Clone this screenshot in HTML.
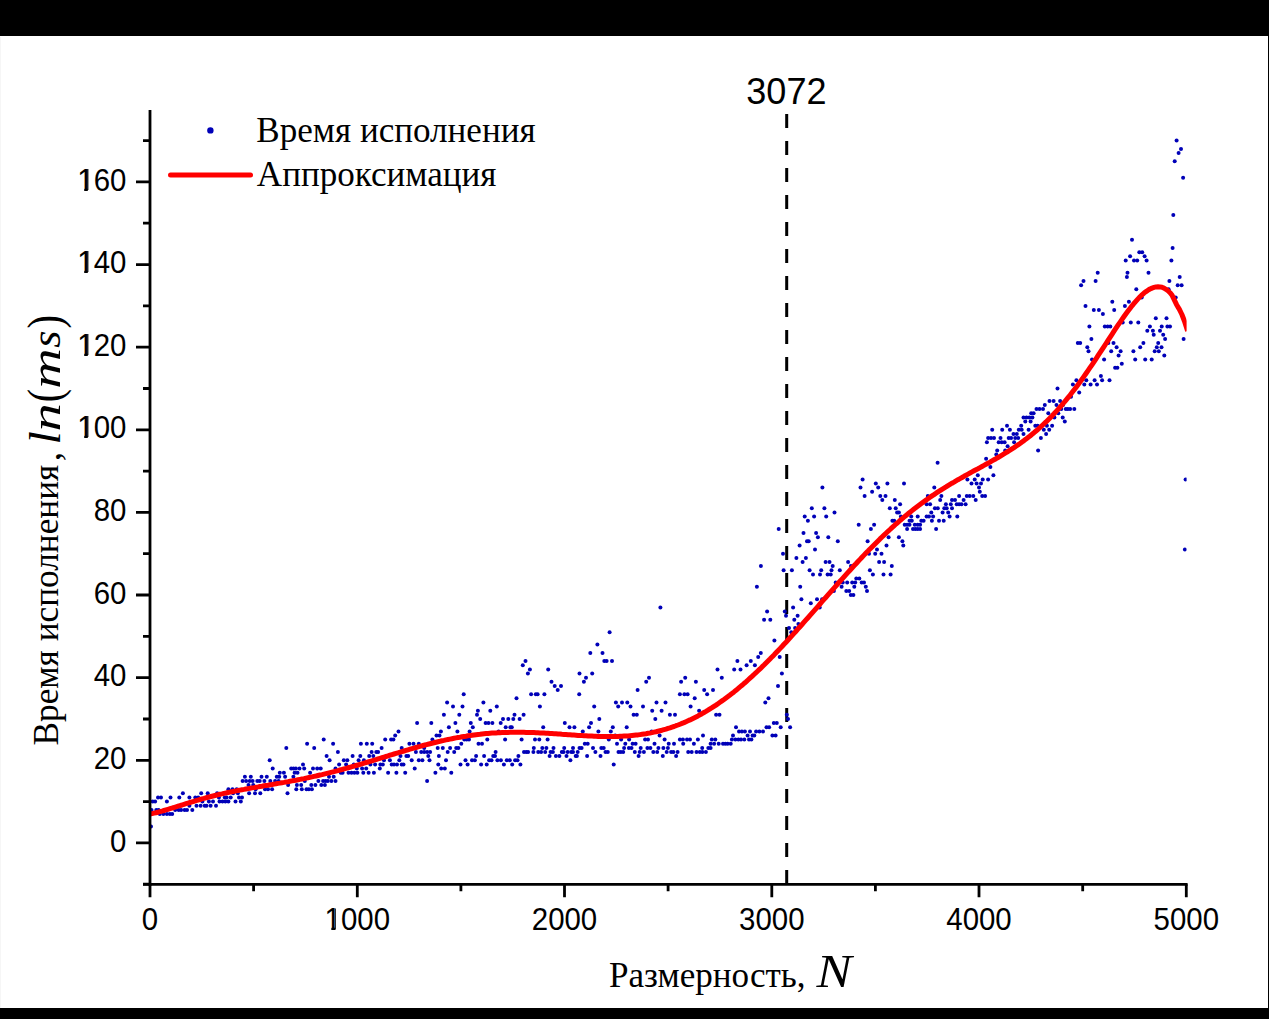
<!DOCTYPE html>
<html><head><meta charset="utf-8">
<style>
html,body{margin:0;padding:0;background:#fff;}
body{width:1269px;height:1019px;overflow:hidden;position:relative;}
svg{position:absolute;left:0;top:0;}
.sans{font-family:"Liberation Sans",sans-serif;}
.serif{font-family:"Liberation Serif",serif;}
</style></head><body>
<svg width="1269" height="1019" viewBox="0 0 1269 1019">
<rect x="0" y="0" width="1269" height="1019" fill="#fff"/>
<path d="M786.7,114V884" stroke="#000" stroke-width="3" stroke-dasharray="14 13" fill="none"/>
<g fill="#0000b8" clip-path="url(#pc)"><circle cx="151.0" cy="826.4" r="2.0"/><circle cx="151.5" cy="809.9" r="2.0"/><circle cx="152.7" cy="801.6" r="2.0"/><circle cx="155.1" cy="801.6" r="2.0"/><circle cx="156.3" cy="809.9" r="2.0"/><circle cx="158.0" cy="797.5" r="2.0"/><circle cx="158.6" cy="809.9" r="2.0"/><circle cx="159.8" cy="814.0" r="2.0"/><circle cx="161.0" cy="797.5" r="2.0"/><circle cx="163.4" cy="814.0" r="2.0"/><circle cx="166.9" cy="801.6" r="2.0"/><circle cx="166.9" cy="814.0" r="2.0"/><circle cx="169.9" cy="814.0" r="2.0"/><circle cx="170.5" cy="797.5" r="2.0"/><circle cx="172.2" cy="814.0" r="2.0"/><circle cx="175.2" cy="809.9" r="2.0"/><circle cx="178.7" cy="809.9" r="2.0"/><circle cx="179.3" cy="797.5" r="2.0"/><circle cx="181.1" cy="809.9" r="2.0"/><circle cx="182.9" cy="793.3" r="2.0"/><circle cx="184.6" cy="809.9" r="2.0"/><circle cx="187.0" cy="809.9" r="2.0"/><circle cx="189.4" cy="797.5" r="2.0"/><circle cx="189.4" cy="805.7" r="2.0"/><circle cx="192.3" cy="809.9" r="2.0"/><circle cx="195.3" cy="797.5" r="2.0"/><circle cx="196.5" cy="805.7" r="2.0"/><circle cx="198.2" cy="797.5" r="2.0"/><circle cx="200.6" cy="805.7" r="2.0"/><circle cx="201.2" cy="793.3" r="2.0"/><circle cx="202.4" cy="801.6" r="2.0"/><circle cx="204.7" cy="805.7" r="2.0"/><circle cx="206.5" cy="805.7" r="2.0"/><circle cx="207.7" cy="793.3" r="2.0"/><circle cx="208.9" cy="801.6" r="2.0"/><circle cx="210.6" cy="805.7" r="2.0"/><circle cx="213.0" cy="801.6" r="2.0"/><circle cx="216.0" cy="805.7" r="2.0"/><circle cx="217.1" cy="793.3" r="2.0"/><circle cx="218.9" cy="797.5" r="2.0"/><circle cx="219.5" cy="801.6" r="2.0"/><circle cx="222.5" cy="801.6" r="2.0"/><circle cx="224.8" cy="797.5" r="2.0"/><circle cx="225.4" cy="801.6" r="2.0"/><circle cx="226.6" cy="797.5" r="2.0"/><circle cx="228.4" cy="789.2" r="2.0"/><circle cx="228.4" cy="801.6" r="2.0"/><circle cx="230.7" cy="797.5" r="2.0"/><circle cx="232.5" cy="789.2" r="2.0"/><circle cx="233.1" cy="793.3" r="2.0"/><circle cx="235.5" cy="801.6" r="2.0"/><circle cx="236.7" cy="789.2" r="2.0"/><circle cx="237.8" cy="793.3" r="2.0"/><circle cx="239.0" cy="797.5" r="2.0"/><circle cx="240.8" cy="801.6" r="2.0"/><circle cx="242.0" cy="797.5" r="2.0"/><circle cx="242.6" cy="780.9" r="2.0"/><circle cx="244.9" cy="776.8" r="2.0"/><circle cx="246.1" cy="780.9" r="2.0"/><circle cx="248.5" cy="785.1" r="2.0"/><circle cx="249.1" cy="793.3" r="2.0"/><circle cx="249.7" cy="780.9" r="2.0"/><circle cx="250.8" cy="776.8" r="2.0"/><circle cx="252.6" cy="780.9" r="2.0"/><circle cx="253.2" cy="785.1" r="2.0"/><circle cx="255.0" cy="793.3" r="2.0"/><circle cx="255.6" cy="789.2" r="2.0"/><circle cx="257.3" cy="780.9" r="2.0"/><circle cx="259.7" cy="780.9" r="2.0"/><circle cx="260.3" cy="793.3" r="2.0"/><circle cx="261.5" cy="776.8" r="2.0"/><circle cx="264.4" cy="780.9" r="2.0"/><circle cx="265.0" cy="789.2" r="2.0"/><circle cx="266.8" cy="776.8" r="2.0"/><circle cx="268.0" cy="789.2" r="2.0"/><circle cx="269.7" cy="760.3" r="2.0"/><circle cx="270.3" cy="780.9" r="2.0"/><circle cx="272.1" cy="789.2" r="2.0"/><circle cx="272.7" cy="768.5" r="2.0"/><circle cx="275.1" cy="780.9" r="2.0"/><circle cx="276.8" cy="776.8" r="2.0"/><circle cx="278.6" cy="780.9" r="2.0"/><circle cx="279.2" cy="776.8" r="2.0"/><circle cx="279.8" cy="772.7" r="2.0"/><circle cx="283.9" cy="772.7" r="2.0"/><circle cx="285.1" cy="776.8" r="2.0"/><circle cx="286.3" cy="747.9" r="2.0"/><circle cx="287.5" cy="793.3" r="2.0"/><circle cx="288.1" cy="785.1" r="2.0"/><circle cx="291.2" cy="768.5" r="2.0"/><circle cx="293.4" cy="776.8" r="2.0"/><circle cx="293.5" cy="768.5" r="2.0"/><circle cx="294.6" cy="772.7" r="2.0"/><circle cx="295.9" cy="768.5" r="2.0"/><circle cx="296.3" cy="789.2" r="2.0"/><circle cx="296.9" cy="785.1" r="2.0"/><circle cx="297.5" cy="772.7" r="2.0"/><circle cx="299.5" cy="768.5" r="2.0"/><circle cx="301.2" cy="785.1" r="2.0"/><circle cx="301.8" cy="789.2" r="2.0"/><circle cx="303.0" cy="764.4" r="2.0"/><circle cx="304.2" cy="768.5" r="2.0"/><circle cx="304.8" cy="780.9" r="2.0"/><circle cx="306.5" cy="789.2" r="2.0"/><circle cx="307.1" cy="743.8" r="2.0"/><circle cx="308.9" cy="789.2" r="2.0"/><circle cx="310.1" cy="772.7" r="2.0"/><circle cx="311.3" cy="785.1" r="2.0"/><circle cx="311.9" cy="789.2" r="2.0"/><circle cx="313.0" cy="768.5" r="2.0"/><circle cx="314.2" cy="747.9" r="2.0"/><circle cx="315.4" cy="785.1" r="2.0"/><circle cx="317.2" cy="768.5" r="2.0"/><circle cx="318.4" cy="780.9" r="2.0"/><circle cx="320.7" cy="768.5" r="2.0"/><circle cx="321.3" cy="785.1" r="2.0"/><circle cx="323.1" cy="780.9" r="2.0"/><circle cx="323.7" cy="739.6" r="2.0"/><circle cx="324.9" cy="785.1" r="2.0"/><circle cx="325.5" cy="780.9" r="2.0"/><circle cx="326.6" cy="756.1" r="2.0"/><circle cx="327.8" cy="780.9" r="2.0"/><circle cx="329.0" cy="776.8" r="2.0"/><circle cx="329.6" cy="760.3" r="2.0"/><circle cx="331.4" cy="780.9" r="2.0"/><circle cx="333.1" cy="743.8" r="2.0"/><circle cx="333.7" cy="776.8" r="2.0"/><circle cx="335.5" cy="768.5" r="2.0"/><circle cx="335.5" cy="780.9" r="2.0"/><circle cx="337.9" cy="752.0" r="2.0"/><circle cx="339.1" cy="764.4" r="2.0"/><circle cx="340.8" cy="772.7" r="2.0"/><circle cx="342.6" cy="772.7" r="2.0"/><circle cx="343.8" cy="760.3" r="2.0"/><circle cx="346.1" cy="764.4" r="2.0"/><circle cx="347.3" cy="760.3" r="2.0"/><circle cx="348.5" cy="772.7" r="2.0"/><circle cx="351.5" cy="772.7" r="2.0"/><circle cx="352.6" cy="756.1" r="2.0"/><circle cx="353.8" cy="764.4" r="2.0"/><circle cx="354.4" cy="772.7" r="2.0"/><circle cx="356.8" cy="768.5" r="2.0"/><circle cx="357.4" cy="772.7" r="2.0"/><circle cx="358.6" cy="760.3" r="2.0"/><circle cx="360.3" cy="756.1" r="2.0"/><circle cx="360.9" cy="743.8" r="2.0"/><circle cx="362.1" cy="768.5" r="2.0"/><circle cx="363.3" cy="772.7" r="2.0"/><circle cx="363.9" cy="760.3" r="2.0"/><circle cx="366.2" cy="768.5" r="2.0"/><circle cx="366.8" cy="743.8" r="2.0"/><circle cx="368.6" cy="772.7" r="2.0"/><circle cx="369.2" cy="756.1" r="2.0"/><circle cx="370.4" cy="764.4" r="2.0"/><circle cx="371.6" cy="752.0" r="2.0"/><circle cx="372.2" cy="743.8" r="2.0"/><circle cx="373.3" cy="756.1" r="2.0"/><circle cx="373.9" cy="772.7" r="2.0"/><circle cx="375.1" cy="764.4" r="2.0"/><circle cx="376.3" cy="752.0" r="2.0"/><circle cx="378.1" cy="752.0" r="2.0"/><circle cx="379.8" cy="768.5" r="2.0"/><circle cx="380.4" cy="764.4" r="2.0"/><circle cx="381.6" cy="747.9" r="2.0"/><circle cx="382.8" cy="764.4" r="2.0"/><circle cx="384.0" cy="760.3" r="2.0"/><circle cx="385.2" cy="739.6" r="2.0"/><circle cx="388.1" cy="772.7" r="2.0"/><circle cx="389.9" cy="760.3" r="2.0"/><circle cx="391.1" cy="739.6" r="2.0"/><circle cx="391.7" cy="764.4" r="2.0"/><circle cx="393.4" cy="739.6" r="2.0"/><circle cx="394.0" cy="764.4" r="2.0"/><circle cx="395.2" cy="735.5" r="2.0"/><circle cx="396.4" cy="772.7" r="2.0"/><circle cx="397.0" cy="764.4" r="2.0"/><circle cx="398.5" cy="731.4" r="2.0"/><circle cx="399.3" cy="760.3" r="2.0"/><circle cx="400.5" cy="756.1" r="2.0"/><circle cx="401.7" cy="747.9" r="2.0"/><circle cx="401.7" cy="764.4" r="2.0"/><circle cx="403.5" cy="764.4" r="2.0"/><circle cx="405.2" cy="772.7" r="2.0"/><circle cx="406.4" cy="756.1" r="2.0"/><circle cx="408.2" cy="756.1" r="2.0"/><circle cx="409.4" cy="743.8" r="2.0"/><circle cx="411.7" cy="760.3" r="2.0"/><circle cx="413.5" cy="743.8" r="2.0"/><circle cx="414.7" cy="768.5" r="2.0"/><circle cx="415.9" cy="752.0" r="2.0"/><circle cx="417.1" cy="723.1" r="2.0"/><circle cx="418.8" cy="743.8" r="2.0"/><circle cx="418.8" cy="760.3" r="2.0"/><circle cx="421.2" cy="752.0" r="2.0"/><circle cx="422.4" cy="760.3" r="2.0"/><circle cx="424.2" cy="747.9" r="2.0"/><circle cx="424.2" cy="752.0" r="2.0"/><circle cx="427.1" cy="752.0" r="2.0"/><circle cx="427.1" cy="780.9" r="2.0"/><circle cx="428.3" cy="756.1" r="2.0"/><circle cx="429.5" cy="760.3" r="2.0"/><circle cx="430.1" cy="752.0" r="2.0"/><circle cx="431.3" cy="723.1" r="2.0"/><circle cx="432.4" cy="739.6" r="2.0"/><circle cx="435.4" cy="772.7" r="2.0"/><circle cx="436.5" cy="735.5" r="2.0"/><circle cx="437.7" cy="747.9" r="2.0"/><circle cx="438.3" cy="764.4" r="2.0"/><circle cx="438.9" cy="756.1" r="2.0"/><circle cx="439.5" cy="735.5" r="2.0"/><circle cx="440.9" cy="731.4" r="2.0"/><circle cx="441.2" cy="768.5" r="2.0"/><circle cx="442.8" cy="747.9" r="2.0"/><circle cx="443.9" cy="714.8" r="2.0"/><circle cx="444.8" cy="768.5" r="2.0"/><circle cx="446.0" cy="760.3" r="2.0"/><circle cx="447.1" cy="702.4" r="2.0"/><circle cx="447.7" cy="752.0" r="2.0"/><circle cx="448.9" cy="727.2" r="2.0"/><circle cx="450.1" cy="747.9" r="2.0"/><circle cx="451.3" cy="772.7" r="2.0"/><circle cx="453.0" cy="706.6" r="2.0"/><circle cx="454.2" cy="752.0" r="2.0"/><circle cx="455.4" cy="723.1" r="2.0"/><circle cx="456.2" cy="747.9" r="2.0"/><circle cx="457.4" cy="731.4" r="2.0"/><circle cx="458.4" cy="747.9" r="2.0"/><circle cx="459.3" cy="714.8" r="2.0"/><circle cx="460.5" cy="764.4" r="2.0"/><circle cx="461.3" cy="743.8" r="2.0"/><circle cx="462.5" cy="706.6" r="2.0"/><circle cx="463.7" cy="694.2" r="2.0"/><circle cx="464.3" cy="739.6" r="2.0"/><circle cx="465.5" cy="760.3" r="2.0"/><circle cx="466.6" cy="739.6" r="2.0"/><circle cx="467.6" cy="764.4" r="2.0"/><circle cx="469.0" cy="739.6" r="2.0"/><circle cx="469.6" cy="731.4" r="2.0"/><circle cx="470.8" cy="723.1" r="2.0"/><circle cx="472.0" cy="760.3" r="2.0"/><circle cx="472.8" cy="727.2" r="2.0"/><circle cx="474.9" cy="760.3" r="2.0"/><circle cx="476.1" cy="756.1" r="2.0"/><circle cx="477.0" cy="714.8" r="2.0"/><circle cx="477.9" cy="710.7" r="2.0"/><circle cx="478.5" cy="743.8" r="2.0"/><circle cx="480.2" cy="719.0" r="2.0"/><circle cx="481.1" cy="764.4" r="2.0"/><circle cx="482.0" cy="743.8" r="2.0"/><circle cx="483.4" cy="702.4" r="2.0"/><circle cx="484.1" cy="756.1" r="2.0"/><circle cx="485.6" cy="723.1" r="2.0"/><circle cx="486.7" cy="764.4" r="2.0"/><circle cx="487.3" cy="739.6" r="2.0"/><circle cx="488.5" cy="723.1" r="2.0"/><circle cx="489.1" cy="760.3" r="2.0"/><circle cx="490.3" cy="710.7" r="2.0"/><circle cx="491.5" cy="760.3" r="2.0"/><circle cx="492.4" cy="723.1" r="2.0"/><circle cx="493.2" cy="756.1" r="2.0"/><circle cx="495.0" cy="756.1" r="2.0"/><circle cx="495.6" cy="752.0" r="2.0"/><circle cx="496.8" cy="706.6" r="2.0"/><circle cx="497.4" cy="760.3" r="2.0"/><circle cx="498.6" cy="731.4" r="2.0"/><circle cx="500.7" cy="723.1" r="2.0"/><circle cx="500.9" cy="760.3" r="2.0"/><circle cx="503.0" cy="719.0" r="2.0"/><circle cx="503.9" cy="764.4" r="2.0"/><circle cx="505.1" cy="739.6" r="2.0"/><circle cx="505.7" cy="727.2" r="2.0"/><circle cx="506.8" cy="760.3" r="2.0"/><circle cx="508.3" cy="719.0" r="2.0"/><circle cx="509.8" cy="760.3" r="2.0"/><circle cx="510.4" cy="727.2" r="2.0"/><circle cx="511.8" cy="727.2" r="2.0"/><circle cx="512.2" cy="764.4" r="2.0"/><circle cx="513.3" cy="719.0" r="2.0"/><circle cx="514.5" cy="714.8" r="2.0"/><circle cx="515.1" cy="760.3" r="2.0"/><circle cx="516.5" cy="698.3" r="2.0"/><circle cx="517.5" cy="760.3" r="2.0"/><circle cx="518.4" cy="756.1" r="2.0"/><circle cx="519.6" cy="719.0" r="2.0"/><circle cx="520.4" cy="764.4" r="2.0"/><circle cx="521.6" cy="739.6" r="2.0"/><circle cx="522.8" cy="665.3" r="2.0"/><circle cx="523.6" cy="714.8" r="2.0"/><circle cx="524.0" cy="752.0" r="2.0"/><circle cx="525.5" cy="661.1" r="2.0"/><circle cx="526.3" cy="752.0" r="2.0"/><circle cx="527.9" cy="673.5" r="2.0"/><circle cx="528.1" cy="752.0" r="2.0"/><circle cx="529.9" cy="669.4" r="2.0"/><circle cx="531.1" cy="694.2" r="2.0"/><circle cx="533.4" cy="752.0" r="2.0"/><circle cx="533.8" cy="747.9" r="2.0"/><circle cx="535.0" cy="739.6" r="2.0"/><circle cx="535.8" cy="694.2" r="2.0"/><circle cx="537.6" cy="694.2" r="2.0"/><circle cx="538.2" cy="752.0" r="2.0"/><circle cx="539.3" cy="739.6" r="2.0"/><circle cx="539.9" cy="706.6" r="2.0"/><circle cx="541.1" cy="752.0" r="2.0"/><circle cx="542.3" cy="747.9" r="2.0"/><circle cx="543.2" cy="727.2" r="2.0"/><circle cx="544.4" cy="694.2" r="2.0"/><circle cx="545.2" cy="752.0" r="2.0"/><circle cx="546.4" cy="747.9" r="2.0"/><circle cx="547.6" cy="739.6" r="2.0"/><circle cx="548.2" cy="669.4" r="2.0"/><circle cx="549.6" cy="756.1" r="2.0"/><circle cx="550.6" cy="752.0" r="2.0"/><circle cx="551.5" cy="681.8" r="2.0"/><circle cx="552.9" cy="752.0" r="2.0"/><circle cx="553.5" cy="747.9" r="2.0"/><circle cx="554.7" cy="685.9" r="2.0"/><circle cx="555.9" cy="756.1" r="2.0"/><circle cx="557.7" cy="690.1" r="2.0"/><circle cx="559.4" cy="756.1" r="2.0"/><circle cx="561.0" cy="685.9" r="2.0"/><circle cx="561.8" cy="752.0" r="2.0"/><circle cx="563.6" cy="752.0" r="2.0"/><circle cx="564.2" cy="747.9" r="2.0"/><circle cx="564.8" cy="723.1" r="2.0"/><circle cx="566.5" cy="756.1" r="2.0"/><circle cx="567.7" cy="752.0" r="2.0"/><circle cx="569.5" cy="727.2" r="2.0"/><circle cx="570.4" cy="760.3" r="2.0"/><circle cx="571.2" cy="752.0" r="2.0"/><circle cx="573.0" cy="752.0" r="2.0"/><circle cx="573.0" cy="747.9" r="2.0"/><circle cx="574.4" cy="727.2" r="2.0"/><circle cx="575.7" cy="756.1" r="2.0"/><circle cx="576.9" cy="756.1" r="2.0"/><circle cx="577.7" cy="752.0" r="2.0"/><circle cx="579.2" cy="694.2" r="2.0"/><circle cx="579.5" cy="673.5" r="2.0"/><circle cx="579.5" cy="747.9" r="2.0"/><circle cx="581.6" cy="747.9" r="2.0"/><circle cx="582.8" cy="731.4" r="2.0"/><circle cx="583.9" cy="681.8" r="2.0"/><circle cx="584.8" cy="743.8" r="2.0"/><circle cx="586.0" cy="677.7" r="2.0"/><circle cx="587.1" cy="756.1" r="2.0"/><circle cx="587.7" cy="743.8" r="2.0"/><circle cx="589.1" cy="727.2" r="2.0"/><circle cx="590.3" cy="652.9" r="2.0"/><circle cx="591.0" cy="723.1" r="2.0"/><circle cx="592.2" cy="673.5" r="2.0"/><circle cx="593.0" cy="747.9" r="2.0"/><circle cx="594.2" cy="706.6" r="2.0"/><circle cx="595.4" cy="752.0" r="2.0"/><circle cx="597.4" cy="644.6" r="2.0"/><circle cx="598.4" cy="731.4" r="2.0"/><circle cx="599.3" cy="719.0" r="2.0"/><circle cx="600.5" cy="756.1" r="2.0"/><circle cx="601.3" cy="747.9" r="2.0"/><circle cx="602.5" cy="652.9" r="2.0"/><circle cx="603.7" cy="747.9" r="2.0"/><circle cx="604.3" cy="661.1" r="2.0"/><circle cx="605.5" cy="752.0" r="2.0"/><circle cx="606.6" cy="661.1" r="2.0"/><circle cx="607.8" cy="752.0" r="2.0"/><circle cx="608.8" cy="739.6" r="2.0"/><circle cx="609.6" cy="632.2" r="2.0"/><circle cx="610.8" cy="731.4" r="2.0"/><circle cx="612.0" cy="661.1" r="2.0"/><circle cx="612.8" cy="727.2" r="2.0"/><circle cx="613.7" cy="764.4" r="2.0"/><circle cx="615.2" cy="735.5" r="2.0"/><circle cx="615.9" cy="702.4" r="2.0"/><circle cx="617.0" cy="743.8" r="2.0"/><circle cx="618.2" cy="706.6" r="2.0"/><circle cx="618.5" cy="752.0" r="2.0"/><circle cx="620.8" cy="752.0" r="2.0"/><circle cx="621.1" cy="739.6" r="2.0"/><circle cx="622.0" cy="702.4" r="2.0"/><circle cx="623.2" cy="752.0" r="2.0"/><circle cx="624.1" cy="747.9" r="2.0"/><circle cx="625.3" cy="743.8" r="2.0"/><circle cx="626.7" cy="727.2" r="2.0"/><circle cx="627.3" cy="702.4" r="2.0"/><circle cx="628.9" cy="747.9" r="2.0"/><circle cx="629.1" cy="739.6" r="2.0"/><circle cx="630.5" cy="706.6" r="2.0"/><circle cx="631.5" cy="747.9" r="2.0"/><circle cx="632.6" cy="743.8" r="2.0"/><circle cx="633.6" cy="714.8" r="2.0"/><circle cx="634.8" cy="752.0" r="2.0"/><circle cx="635.6" cy="743.8" r="2.0"/><circle cx="636.8" cy="714.8" r="2.0"/><circle cx="637.6" cy="690.1" r="2.0"/><circle cx="638.6" cy="756.1" r="2.0"/><circle cx="639.7" cy="752.0" r="2.0"/><circle cx="640.7" cy="747.9" r="2.0"/><circle cx="643.0" cy="706.6" r="2.0"/><circle cx="643.9" cy="752.0" r="2.0"/><circle cx="645.1" cy="739.6" r="2.0"/><circle cx="646.2" cy="681.8" r="2.0"/><circle cx="647.4" cy="747.9" r="2.0"/><circle cx="648.0" cy="739.6" r="2.0"/><circle cx="649.0" cy="677.7" r="2.0"/><circle cx="650.4" cy="747.9" r="2.0"/><circle cx="651.6" cy="731.4" r="2.0"/><circle cx="652.2" cy="710.7" r="2.0"/><circle cx="653.3" cy="752.0" r="2.0"/><circle cx="654.5" cy="743.8" r="2.0"/><circle cx="655.3" cy="719.0" r="2.0"/><circle cx="656.5" cy="702.4" r="2.0"/><circle cx="657.2" cy="752.0" r="2.0"/><circle cx="658.4" cy="747.9" r="2.0"/><circle cx="659.6" cy="735.5" r="2.0"/><circle cx="660.4" cy="607.4" r="2.0"/><circle cx="661.6" cy="710.7" r="2.0"/><circle cx="662.8" cy="756.1" r="2.0"/><circle cx="663.4" cy="747.9" r="2.0"/><circle cx="664.6" cy="739.6" r="2.0"/><circle cx="665.5" cy="702.4" r="2.0"/><circle cx="666.7" cy="752.0" r="2.0"/><circle cx="667.9" cy="747.9" r="2.0"/><circle cx="668.7" cy="743.8" r="2.0"/><circle cx="669.9" cy="714.8" r="2.0"/><circle cx="671.1" cy="752.0" r="2.0"/><circle cx="673.4" cy="752.0" r="2.0"/><circle cx="674.0" cy="743.8" r="2.0"/><circle cx="675.0" cy="714.8" r="2.0"/><circle cx="676.1" cy="756.1" r="2.0"/><circle cx="677.6" cy="752.0" r="2.0"/><circle cx="679.9" cy="694.2" r="2.0"/><circle cx="679.9" cy="739.6" r="2.0"/><circle cx="681.1" cy="681.8" r="2.0"/><circle cx="682.9" cy="739.6" r="2.0"/><circle cx="683.2" cy="743.8" r="2.0"/><circle cx="684.4" cy="694.2" r="2.0"/><circle cx="685.2" cy="677.7" r="2.0"/><circle cx="687.0" cy="739.6" r="2.0"/><circle cx="687.6" cy="694.2" r="2.0"/><circle cx="688.2" cy="752.0" r="2.0"/><circle cx="690.0" cy="739.6" r="2.0"/><circle cx="690.6" cy="706.6" r="2.0"/><circle cx="691.7" cy="752.0" r="2.0"/><circle cx="693.9" cy="743.8" r="2.0"/><circle cx="694.7" cy="698.3" r="2.0"/><circle cx="695.9" cy="681.8" r="2.0"/><circle cx="696.5" cy="752.0" r="2.0"/><circle cx="697.9" cy="739.6" r="2.0"/><circle cx="699.1" cy="710.7" r="2.0"/><circle cx="699.8" cy="752.0" r="2.0"/><circle cx="702.2" cy="747.9" r="2.0"/><circle cx="702.4" cy="752.0" r="2.0"/><circle cx="703.0" cy="735.5" r="2.0"/><circle cx="704.2" cy="690.1" r="2.0"/><circle cx="705.9" cy="752.0" r="2.0"/><circle cx="707.1" cy="694.2" r="2.0"/><circle cx="708.3" cy="747.9" r="2.0"/><circle cx="710.6" cy="743.8" r="2.0"/><circle cx="710.6" cy="747.9" r="2.0"/><circle cx="711.8" cy="739.6" r="2.0"/><circle cx="713.0" cy="690.1" r="2.0"/><circle cx="714.1" cy="743.8" r="2.0"/><circle cx="715.3" cy="739.6" r="2.0"/><circle cx="716.1" cy="714.8" r="2.0"/><circle cx="717.5" cy="669.4" r="2.0"/><circle cx="718.7" cy="743.8" r="2.0"/><circle cx="719.5" cy="714.8" r="2.0"/><circle cx="721.8" cy="677.7" r="2.0"/><circle cx="723.0" cy="743.8" r="2.0"/><circle cx="725.4" cy="743.8" r="2.0"/><circle cx="727.7" cy="743.8" r="2.0"/><circle cx="730.7" cy="743.8" r="2.0"/><circle cx="731.9" cy="739.6" r="2.0"/><circle cx="733.0" cy="735.5" r="2.0"/><circle cx="734.2" cy="669.4" r="2.0"/><circle cx="735.4" cy="739.6" r="2.0"/><circle cx="736.0" cy="727.2" r="2.0"/><circle cx="737.4" cy="661.1" r="2.0"/><circle cx="738.4" cy="739.6" r="2.0"/><circle cx="739.0" cy="731.4" r="2.0"/><circle cx="740.5" cy="669.4" r="2.0"/><circle cx="741.0" cy="739.6" r="2.0"/><circle cx="741.9" cy="731.4" r="2.0"/><circle cx="744.3" cy="739.6" r="2.0"/><circle cx="744.9" cy="731.4" r="2.0"/><circle cx="746.6" cy="665.3" r="2.0"/><circle cx="747.6" cy="735.5" r="2.0"/><circle cx="749.0" cy="739.6" r="2.0"/><circle cx="750.0" cy="731.4" r="2.0"/><circle cx="750.8" cy="661.1" r="2.0"/><circle cx="751.4" cy="739.6" r="2.0"/><circle cx="752.6" cy="735.5" r="2.0"/><circle cx="754.3" cy="735.5" r="2.0"/><circle cx="754.9" cy="665.3" r="2.0"/><circle cx="756.1" cy="731.4" r="2.0"/><circle cx="756.9" cy="586.8" r="2.0"/><circle cx="758.2" cy="657.0" r="2.0"/><circle cx="759.4" cy="731.4" r="2.0"/><circle cx="760.8" cy="652.9" r="2.0"/><circle cx="760.9" cy="566.1" r="2.0"/><circle cx="763.0" cy="731.4" r="2.0"/><circle cx="764.1" cy="619.8" r="2.0"/><circle cx="765.3" cy="702.4" r="2.0"/><circle cx="766.5" cy="727.2" r="2.0"/><circle cx="767.1" cy="611.6" r="2.0"/><circle cx="768.5" cy="698.3" r="2.0"/><circle cx="769.1" cy="727.2" r="2.0"/><circle cx="770.3" cy="619.8" r="2.0"/><circle cx="772.4" cy="735.5" r="2.0"/><circle cx="773.8" cy="723.1" r="2.0"/><circle cx="774.4" cy="640.5" r="2.0"/><circle cx="775.6" cy="735.5" r="2.0"/><circle cx="776.8" cy="723.1" r="2.0"/><circle cx="778.0" cy="685.9" r="2.0"/><circle cx="778.7" cy="528.9" r="2.0"/><circle cx="779.7" cy="657.0" r="2.0"/><circle cx="780.7" cy="727.2" r="2.0"/><circle cx="781.9" cy="673.5" r="2.0"/><circle cx="783.0" cy="553.7" r="2.0"/><circle cx="783.6" cy="570.3" r="2.0"/><circle cx="784.8" cy="611.6" r="2.0"/><circle cx="786.0" cy="615.7" r="2.0"/><circle cx="786.8" cy="714.8" r="2.0"/><circle cx="788.0" cy="719.0" r="2.0"/><circle cx="789.0" cy="628.1" r="2.0"/><circle cx="790.1" cy="727.2" r="2.0"/><circle cx="791.3" cy="632.2" r="2.0"/><circle cx="791.9" cy="570.3" r="2.0"/><circle cx="793.1" cy="607.4" r="2.0"/><circle cx="794.3" cy="619.8" r="2.0"/><circle cx="795.1" cy="628.1" r="2.0"/><circle cx="796.4" cy="557.9" r="2.0"/><circle cx="797.6" cy="615.7" r="2.0"/><circle cx="798.4" cy="624.0" r="2.0"/><circle cx="799.6" cy="545.5" r="2.0"/><circle cx="800.2" cy="586.8" r="2.0"/><circle cx="801.4" cy="599.2" r="2.0"/><circle cx="802.6" cy="562.0" r="2.0"/><circle cx="803.5" cy="533.1" r="2.0"/><circle cx="804.7" cy="516.6" r="2.0"/><circle cx="805.9" cy="557.9" r="2.0"/><circle cx="807.0" cy="541.3" r="2.0"/><circle cx="807.9" cy="520.7" r="2.0"/><circle cx="808.7" cy="541.3" r="2.0"/><circle cx="809.6" cy="570.3" r="2.0"/><circle cx="810.8" cy="603.3" r="2.0"/><circle cx="811.8" cy="508.3" r="2.0"/><circle cx="813.0" cy="574.4" r="2.0"/><circle cx="814.1" cy="516.6" r="2.0"/><circle cx="815.0" cy="549.6" r="2.0"/><circle cx="816.1" cy="533.1" r="2.0"/><circle cx="817.0" cy="599.2" r="2.0"/><circle cx="817.9" cy="537.2" r="2.0"/><circle cx="819.7" cy="607.4" r="2.0"/><circle cx="820.0" cy="574.4" r="2.0"/><circle cx="821.2" cy="570.3" r="2.0"/><circle cx="822.1" cy="599.2" r="2.0"/><circle cx="822.4" cy="487.6" r="2.0"/><circle cx="824.4" cy="508.3" r="2.0"/><circle cx="825.6" cy="562.0" r="2.0"/><circle cx="826.2" cy="516.6" r="2.0"/><circle cx="827.6" cy="574.4" r="2.0"/><circle cx="828.3" cy="537.2" r="2.0"/><circle cx="829.5" cy="562.0" r="2.0"/><circle cx="830.7" cy="574.4" r="2.0"/><circle cx="831.5" cy="570.3" r="2.0"/><circle cx="832.7" cy="566.1" r="2.0"/><circle cx="833.9" cy="590.9" r="2.0"/><circle cx="834.5" cy="512.4" r="2.0"/><circle cx="835.7" cy="582.6" r="2.0"/><circle cx="837.8" cy="541.3" r="2.0"/><circle cx="839.8" cy="570.3" r="2.0"/><circle cx="841.6" cy="586.8" r="2.0"/><circle cx="842.7" cy="582.6" r="2.0"/><circle cx="846.3" cy="590.9" r="2.0"/><circle cx="847.2" cy="582.6" r="2.0"/><circle cx="848.1" cy="562.0" r="2.0"/><circle cx="849.2" cy="590.9" r="2.0"/><circle cx="850.8" cy="595.0" r="2.0"/><circle cx="851.0" cy="566.1" r="2.0"/><circle cx="852.2" cy="582.6" r="2.0"/><circle cx="853.4" cy="595.0" r="2.0"/><circle cx="854.3" cy="586.8" r="2.0"/><circle cx="855.2" cy="582.6" r="2.0"/><circle cx="856.3" cy="578.5" r="2.0"/><circle cx="858.7" cy="524.8" r="2.0"/><circle cx="859.3" cy="578.5" r="2.0"/><circle cx="860.5" cy="487.6" r="2.0"/><circle cx="861.7" cy="582.6" r="2.0"/><circle cx="862.6" cy="479.4" r="2.0"/><circle cx="864.0" cy="582.6" r="2.0"/><circle cx="864.6" cy="495.9" r="2.0"/><circle cx="865.8" cy="586.8" r="2.0"/><circle cx="867.0" cy="590.9" r="2.0"/><circle cx="867.6" cy="541.3" r="2.0"/><circle cx="869.0" cy="553.7" r="2.0"/><circle cx="869.9" cy="570.3" r="2.0"/><circle cx="870.9" cy="528.9" r="2.0"/><circle cx="872.1" cy="491.8" r="2.0"/><circle cx="872.9" cy="574.4" r="2.0"/><circle cx="874.1" cy="524.8" r="2.0"/><circle cx="875.2" cy="553.7" r="2.0"/><circle cx="875.8" cy="483.5" r="2.0"/><circle cx="877.0" cy="549.6" r="2.0"/><circle cx="878.2" cy="487.6" r="2.0"/><circle cx="879.1" cy="562.0" r="2.0"/><circle cx="880.3" cy="495.9" r="2.0"/><circle cx="881.5" cy="553.7" r="2.0"/><circle cx="882.3" cy="500.0" r="2.0"/><circle cx="883.5" cy="574.4" r="2.0"/><circle cx="884.1" cy="562.0" r="2.0"/><circle cx="885.5" cy="495.9" r="2.0"/><circle cx="886.5" cy="545.5" r="2.0"/><circle cx="887.4" cy="483.5" r="2.0"/><circle cx="888.6" cy="537.2" r="2.0"/><circle cx="889.8" cy="508.3" r="2.0"/><circle cx="890.6" cy="574.4" r="2.0"/><circle cx="891.8" cy="566.1" r="2.0"/><circle cx="892.4" cy="520.7" r="2.0"/><circle cx="894.2" cy="520.7" r="2.0"/><circle cx="894.8" cy="500.0" r="2.0"/><circle cx="895.7" cy="508.3" r="2.0"/><circle cx="897.1" cy="512.4" r="2.0"/><circle cx="898.9" cy="512.4" r="2.0"/><circle cx="898.9" cy="537.2" r="2.0"/><circle cx="900.1" cy="504.2" r="2.0"/><circle cx="900.9" cy="516.6" r="2.0"/><circle cx="902.4" cy="541.3" r="2.0"/><circle cx="903.3" cy="545.5" r="2.0"/><circle cx="904.0" cy="483.5" r="2.0"/><circle cx="904.7" cy="524.8" r="2.0"/><circle cx="907.1" cy="524.8" r="2.0"/><circle cx="907.1" cy="528.9" r="2.0"/><circle cx="909.5" cy="524.8" r="2.0"/><circle cx="909.5" cy="520.7" r="2.0"/><circle cx="911.2" cy="516.6" r="2.0"/><circle cx="911.8" cy="520.7" r="2.0"/><circle cx="913.0" cy="528.9" r="2.0"/><circle cx="914.8" cy="524.8" r="2.0"/><circle cx="915.4" cy="528.9" r="2.0"/><circle cx="917.7" cy="516.6" r="2.0"/><circle cx="917.7" cy="524.8" r="2.0"/><circle cx="917.7" cy="528.9" r="2.0"/><circle cx="920.1" cy="524.8" r="2.0"/><circle cx="920.1" cy="528.9" r="2.0"/><circle cx="921.3" cy="520.7" r="2.0"/><circle cx="923.6" cy="520.7" r="2.0"/><circle cx="926.6" cy="504.2" r="2.0"/><circle cx="926.6" cy="516.6" r="2.0"/><circle cx="927.8" cy="495.9" r="2.0"/><circle cx="929.0" cy="516.6" r="2.0"/><circle cx="930.1" cy="504.2" r="2.0"/><circle cx="931.3" cy="512.4" r="2.0"/><circle cx="931.9" cy="520.7" r="2.0"/><circle cx="933.1" cy="516.6" r="2.0"/><circle cx="934.3" cy="487.6" r="2.0"/><circle cx="934.9" cy="508.3" r="2.0"/><circle cx="936.1" cy="528.9" r="2.0"/><circle cx="937.6" cy="462.8" r="2.0"/><circle cx="937.8" cy="508.3" r="2.0"/><circle cx="939.0" cy="520.7" r="2.0"/><circle cx="940.2" cy="500.0" r="2.0"/><circle cx="941.4" cy="495.9" r="2.0"/><circle cx="942.6" cy="512.4" r="2.0"/><circle cx="943.7" cy="520.7" r="2.0"/><circle cx="944.3" cy="508.3" r="2.0"/><circle cx="945.9" cy="504.2" r="2.0"/><circle cx="946.7" cy="508.3" r="2.0"/><circle cx="948.2" cy="512.4" r="2.0"/><circle cx="949.6" cy="516.6" r="2.0"/><circle cx="950.8" cy="504.2" r="2.0"/><circle cx="952.0" cy="500.0" r="2.0"/><circle cx="952.0" cy="508.3" r="2.0"/><circle cx="955.0" cy="500.0" r="2.0"/><circle cx="956.7" cy="504.2" r="2.0"/><circle cx="957.3" cy="516.6" r="2.0"/><circle cx="959.1" cy="495.9" r="2.0"/><circle cx="959.1" cy="504.2" r="2.0"/><circle cx="961.5" cy="504.2" r="2.0"/><circle cx="963.6" cy="500.0" r="2.0"/><circle cx="965.6" cy="504.2" r="2.0"/><circle cx="966.8" cy="495.9" r="2.0"/><circle cx="967.4" cy="479.4" r="2.0"/><circle cx="969.7" cy="495.9" r="2.0"/><circle cx="971.5" cy="483.5" r="2.0"/><circle cx="973.3" cy="495.9" r="2.0"/><circle cx="974.7" cy="479.4" r="2.0"/><circle cx="975.7" cy="500.0" r="2.0"/><circle cx="976.6" cy="483.5" r="2.0"/><circle cx="977.8" cy="475.2" r="2.0"/><circle cx="979.0" cy="487.6" r="2.0"/><circle cx="979.8" cy="491.8" r="2.0"/><circle cx="981.0" cy="483.5" r="2.0"/><circle cx="982.2" cy="495.9" r="2.0"/><circle cx="982.7" cy="479.4" r="2.0"/><circle cx="985.1" cy="495.9" r="2.0"/><circle cx="986.1" cy="458.7" r="2.0"/><circle cx="986.9" cy="442.2" r="2.0"/><circle cx="988.1" cy="438.1" r="2.0"/><circle cx="988.1" cy="479.4" r="2.0"/><circle cx="990.4" cy="467.0" r="2.0"/><circle cx="991.0" cy="438.1" r="2.0"/><circle cx="992.2" cy="429.8" r="2.0"/><circle cx="993.4" cy="475.2" r="2.0"/><circle cx="994.0" cy="438.1" r="2.0"/><circle cx="996.3" cy="454.6" r="2.0"/><circle cx="997.2" cy="450.5" r="2.0"/><circle cx="998.7" cy="442.2" r="2.0"/><circle cx="1000.5" cy="438.1" r="2.0"/><circle cx="1001.7" cy="442.2" r="2.0"/><circle cx="1002.2" cy="429.8" r="2.0"/><circle cx="1004.6" cy="442.2" r="2.0"/><circle cx="1005.2" cy="450.5" r="2.0"/><circle cx="1007.0" cy="425.7" r="2.0"/><circle cx="1007.6" cy="446.3" r="2.0"/><circle cx="1008.7" cy="438.1" r="2.0"/><circle cx="1009.9" cy="429.8" r="2.0"/><circle cx="1011.1" cy="438.1" r="2.0"/><circle cx="1013.5" cy="433.9" r="2.0"/><circle cx="1014.1" cy="442.2" r="2.0"/><circle cx="1015.2" cy="438.1" r="2.0"/><circle cx="1016.8" cy="433.9" r="2.0"/><circle cx="1018.2" cy="438.1" r="2.0"/><circle cx="1018.8" cy="429.8" r="2.0"/><circle cx="1021.2" cy="425.7" r="2.0"/><circle cx="1021.7" cy="429.8" r="2.0"/><circle cx="1023.5" cy="417.4" r="2.0"/><circle cx="1023.5" cy="433.9" r="2.0"/><circle cx="1025.3" cy="421.5" r="2.0"/><circle cx="1026.5" cy="417.4" r="2.0"/><circle cx="1028.6" cy="429.8" r="2.0"/><circle cx="1029.4" cy="417.4" r="2.0"/><circle cx="1030.6" cy="421.5" r="2.0"/><circle cx="1031.2" cy="413.3" r="2.0"/><circle cx="1032.4" cy="417.4" r="2.0"/><circle cx="1033.6" cy="413.3" r="2.0"/><circle cx="1035.3" cy="425.7" r="2.0"/><circle cx="1036.5" cy="409.1" r="2.0"/><circle cx="1037.7" cy="425.7" r="2.0"/><circle cx="1038.1" cy="450.5" r="2.0"/><circle cx="1039.5" cy="409.1" r="2.0"/><circle cx="1040.9" cy="438.1" r="2.0"/><circle cx="1043.0" cy="409.1" r="2.0"/><circle cx="1043.8" cy="429.8" r="2.0"/><circle cx="1044.8" cy="405.0" r="2.0"/><circle cx="1046.1" cy="433.9" r="2.0"/><circle cx="1046.9" cy="425.7" r="2.0"/><circle cx="1048.3" cy="413.3" r="2.0"/><circle cx="1049.2" cy="429.8" r="2.0"/><circle cx="1049.5" cy="400.9" r="2.0"/><circle cx="1052.1" cy="425.7" r="2.0"/><circle cx="1053.6" cy="400.9" r="2.0"/><circle cx="1054.4" cy="417.4" r="2.0"/><circle cx="1056.5" cy="405.0" r="2.0"/><circle cx="1057.5" cy="388.5" r="2.0"/><circle cx="1058.3" cy="413.3" r="2.0"/><circle cx="1060.1" cy="400.9" r="2.0"/><circle cx="1061.3" cy="409.1" r="2.0"/><circle cx="1062.7" cy="417.4" r="2.0"/><circle cx="1063.0" cy="405.0" r="2.0"/><circle cx="1064.8" cy="421.5" r="2.0"/><circle cx="1065.8" cy="409.1" r="2.0"/><circle cx="1067.8" cy="409.1" r="2.0"/><circle cx="1070.1" cy="409.1" r="2.0"/><circle cx="1071.0" cy="396.8" r="2.0"/><circle cx="1072.9" cy="384.4" r="2.0"/><circle cx="1074.3" cy="409.1" r="2.0"/><circle cx="1076.4" cy="380.2" r="2.0"/><circle cx="1077.8" cy="343.0" r="2.0"/><circle cx="1079.2" cy="392.6" r="2.0"/><circle cx="1080.2" cy="343.0" r="2.0"/><circle cx="1081.1" cy="285.2" r="2.0"/><circle cx="1083.5" cy="281.1" r="2.0"/><circle cx="1084.3" cy="384.4" r="2.0"/><circle cx="1085.5" cy="305.9" r="2.0"/><circle cx="1086.3" cy="380.2" r="2.0"/><circle cx="1087.3" cy="347.2" r="2.0"/><circle cx="1088.5" cy="351.3" r="2.0"/><circle cx="1089.4" cy="326.5" r="2.0"/><circle cx="1090.6" cy="384.4" r="2.0"/><circle cx="1091.4" cy="338.9" r="2.0"/><circle cx="1092.0" cy="359.6" r="2.0"/><circle cx="1093.8" cy="310.0" r="2.0"/><circle cx="1094.6" cy="380.2" r="2.0"/><circle cx="1095.6" cy="281.1" r="2.0"/><circle cx="1097.0" cy="384.4" r="2.0"/><circle cx="1097.7" cy="272.8" r="2.0"/><circle cx="1098.9" cy="310.0" r="2.0"/><circle cx="1100.9" cy="376.1" r="2.0"/><circle cx="1102.1" cy="380.2" r="2.0"/><circle cx="1102.9" cy="314.1" r="2.0"/><circle cx="1104.1" cy="359.6" r="2.0"/><circle cx="1104.8" cy="326.5" r="2.0"/><circle cx="1107.6" cy="326.5" r="2.0"/><circle cx="1108.3" cy="343.0" r="2.0"/><circle cx="1109.5" cy="380.2" r="2.0"/><circle cx="1110.3" cy="326.5" r="2.0"/><circle cx="1111.2" cy="351.3" r="2.0"/><circle cx="1112.3" cy="301.7" r="2.0"/><circle cx="1113.5" cy="343.0" r="2.0"/><circle cx="1114.2" cy="310.0" r="2.0"/><circle cx="1115.1" cy="367.8" r="2.0"/><circle cx="1116.6" cy="347.2" r="2.0"/><circle cx="1117.4" cy="367.8" r="2.0"/><circle cx="1118.6" cy="355.4" r="2.0"/><circle cx="1120.6" cy="351.3" r="2.0"/><circle cx="1121.8" cy="363.7" r="2.0"/><circle cx="1122.7" cy="322.4" r="2.0"/><circle cx="1124.9" cy="305.9" r="2.0"/><circle cx="1125.7" cy="260.4" r="2.0"/><circle cx="1126.9" cy="277.0" r="2.0"/><circle cx="1127.5" cy="272.8" r="2.0"/><circle cx="1128.9" cy="301.7" r="2.0"/><circle cx="1130.1" cy="256.3" r="2.0"/><circle cx="1130.8" cy="322.4" r="2.0"/><circle cx="1132.0" cy="239.8" r="2.0"/><circle cx="1133.4" cy="351.3" r="2.0"/><circle cx="1134.0" cy="260.4" r="2.0"/><circle cx="1135.2" cy="359.6" r="2.0"/><circle cx="1136.3" cy="289.3" r="2.0"/><circle cx="1137.2" cy="260.4" r="2.0"/><circle cx="1138.3" cy="322.4" r="2.0"/><circle cx="1139.3" cy="252.2" r="2.0"/><circle cx="1140.2" cy="347.2" r="2.0"/><circle cx="1141.7" cy="297.6" r="2.0"/><circle cx="1142.2" cy="252.2" r="2.0"/><circle cx="1143.4" cy="343.0" r="2.0"/><circle cx="1144.6" cy="256.3" r="2.0"/><circle cx="1145.2" cy="359.6" r="2.0"/><circle cx="1146.6" cy="260.4" r="2.0"/><circle cx="1147.3" cy="330.7" r="2.0"/><circle cx="1148.5" cy="272.8" r="2.0"/><circle cx="1149.9" cy="326.5" r="2.0"/><circle cx="1151.7" cy="359.6" r="2.0"/><circle cx="1152.9" cy="330.7" r="2.0"/><circle cx="1153.7" cy="334.8" r="2.0"/><circle cx="1154.7" cy="351.3" r="2.0"/><circle cx="1155.8" cy="318.3" r="2.0"/><circle cx="1156.8" cy="347.2" r="2.0"/><circle cx="1158.2" cy="343.0" r="2.0"/><circle cx="1158.8" cy="351.3" r="2.0"/><circle cx="1160.0" cy="330.7" r="2.0"/><circle cx="1161.5" cy="347.2" r="2.0"/><circle cx="1161.7" cy="326.5" r="2.0"/><circle cx="1163.2" cy="334.8" r="2.0"/><circle cx="1164.3" cy="355.4" r="2.0"/><circle cx="1165.1" cy="338.9" r="2.0"/><circle cx="1166.5" cy="318.3" r="2.0"/><circle cx="1167.4" cy="326.5" r="2.0"/><circle cx="1168.6" cy="289.3" r="2.0"/><circle cx="1169.4" cy="281.1" r="2.0"/><circle cx="1170.0" cy="326.5" r="2.0"/><circle cx="1171.4" cy="260.4" r="2.0"/><circle cx="1172.6" cy="248.0" r="2.0"/><circle cx="1173.3" cy="215.0" r="2.0"/><circle cx="1174.7" cy="161.3" r="2.0"/><circle cx="1175.7" cy="297.6" r="2.0"/><circle cx="1176.6" cy="140.6" r="2.0"/><circle cx="1177.7" cy="285.2" r="2.0"/><circle cx="1178.6" cy="153.0" r="2.0"/><circle cx="1179.7" cy="277.0" r="2.0"/><circle cx="1181.0" cy="148.9" r="2.0"/><circle cx="1181.6" cy="285.2" r="2.0"/><circle cx="1183.1" cy="177.8" r="2.0"/><circle cx="1183.6" cy="338.9" r="2.0"/><circle cx="1184.9" cy="549.6" r="2.0"/><circle cx="1185.6" cy="479.4" r="2.0"/></g>
<defs><clipPath id="pc"><rect x="148" y="100" width="1038.6" height="790"/></clipPath></defs>
<path d="M150.0,814.0 L152.0,813.6 L154.0,813.1 L156.0,812.7 L158.0,812.2 L160.0,811.6 L162.0,811.1 L164.0,810.5 L166.0,809.9 L168.0,809.3 L170.0,808.7 L172.0,808.1 L174.0,807.5 L176.0,806.8 L178.0,806.2 L180.0,805.6 L182.0,805.0 L184.0,804.3 L186.0,803.7 L188.0,803.1 L190.0,802.5 L192.0,801.9 L194.0,801.3 L196.0,800.7 L198.0,800.1 L200.0,799.5 L202.0,798.9 L204.0,798.4 L206.0,797.8 L208.0,797.3 L210.0,796.8 L212.0,796.3 L214.0,795.8 L216.0,795.3 L218.0,794.8 L220.0,794.3 L222.0,793.9 L224.0,793.4 L226.0,793.0 L228.0,792.5 L230.0,792.1 L232.0,791.7 L234.0,791.3 L236.0,790.9 L238.0,790.5 L240.0,790.1 L242.0,789.7 L244.0,789.4 L246.0,789.0 L248.0,788.6 L250.0,788.3 L252.0,787.9 L254.0,787.6 L256.0,787.2 L258.0,786.9 L260.0,786.5 L262.0,786.2 L264.0,785.8 L266.0,785.5 L268.0,785.2 L270.0,784.8 L272.0,784.5 L274.0,784.1 L276.0,783.8 L278.0,783.4 L280.0,783.1 L282.0,782.7 L284.0,782.4 L286.0,782.0 L288.0,781.7 L290.0,781.3 L292.0,780.9 L294.0,780.5 L296.0,780.2 L298.0,779.8 L300.0,779.4 L302.0,779.0 L304.0,778.6 L306.0,778.1 L308.0,777.7 L310.0,777.3 L312.0,776.9 L314.0,776.4 L316.0,776.0 L318.0,775.5 L320.0,775.0 L322.0,774.6 L324.0,774.1 L326.0,773.6 L328.0,773.1 L330.0,772.6 L332.0,772.1 L334.0,771.6 L336.0,771.1 L338.0,770.6 L340.0,770.0 L342.0,769.5 L344.0,768.9 L346.0,768.4 L348.0,767.8 L350.0,767.3 L352.0,766.7 L354.0,766.1 L356.0,765.5 L358.0,765.0 L360.0,764.4 L362.0,763.8 L364.0,763.2 L366.0,762.6 L368.0,762.0 L370.0,761.4 L372.0,760.8 L374.0,760.2 L376.0,759.6 L378.0,758.9 L380.0,758.3 L382.0,757.7 L384.0,757.1 L386.0,756.5 L388.0,755.9 L390.0,755.2 L392.0,754.6 L394.0,754.0 L396.0,753.4 L398.0,752.8 L400.0,752.2 L402.0,751.6 L404.0,751.0 L406.0,750.4 L408.0,749.8 L410.0,749.2 L412.0,748.6 L414.0,748.1 L416.0,747.5 L418.0,746.9 L420.0,746.4 L422.0,745.8 L424.0,745.3 L426.0,744.8 L428.0,744.2 L430.0,743.7 L432.0,743.2 L434.0,742.7 L436.0,742.2 L438.0,741.7 L440.0,741.3 L442.0,740.8 L444.0,740.4 L446.0,739.9 L448.0,739.5 L450.0,739.1 L452.0,738.7 L454.0,738.3 L456.0,737.9 L458.0,737.5 L460.0,737.2 L462.0,736.8 L464.0,736.5 L466.0,736.2 L468.0,735.8 L470.0,735.6 L472.0,735.3 L474.0,735.0 L476.0,734.7 L478.0,734.5 L480.0,734.3 L482.0,734.0 L484.0,733.8 L486.0,733.6 L488.0,733.5 L490.0,733.3 L492.0,733.1 L494.0,733.0 L496.0,732.9 L498.0,732.8 L500.0,732.7 L502.0,732.6 L504.0,732.5 L506.0,732.4 L508.0,732.4 L510.0,732.3 L512.0,732.3 L514.0,732.3 L516.0,732.3 L518.0,732.3 L520.0,732.3 L522.0,732.3 L524.0,732.3 L526.0,732.4 L528.0,732.4 L530.0,732.5 L532.0,732.5 L534.0,732.6 L536.0,732.7 L538.0,732.8 L540.0,732.9 L542.0,733.0 L544.0,733.1 L546.0,733.2 L548.0,733.3 L550.0,733.5 L552.0,733.6 L554.0,733.7 L556.0,733.8 L558.0,734.0 L560.0,734.1 L562.0,734.3 L564.0,734.4 L566.0,734.5 L568.0,734.7 L570.0,734.8 L572.0,735.0 L574.0,735.1 L576.0,735.2 L578.0,735.4 L580.0,735.5 L582.0,735.6 L584.0,735.7 L586.0,735.8 L588.0,736.0 L590.0,736.1 L592.0,736.1 L594.0,736.2 L596.0,736.3 L598.0,736.4 L600.0,736.4 L602.0,736.5 L604.0,736.5 L606.0,736.5 L608.0,736.6 L610.0,736.6 L612.0,736.5 L614.0,736.5 L616.0,736.5 L618.0,736.4 L620.0,736.3 L622.0,736.3 L624.0,736.1 L626.0,736.0 L628.0,735.9 L630.0,735.7 L632.0,735.5 L634.0,735.3 L636.0,735.1 L638.0,734.9 L640.0,734.6 L642.0,734.3 L644.0,734.0 L646.0,733.7 L648.0,733.3 L650.0,733.0 L652.0,732.6 L654.0,732.1 L656.0,731.7 L658.0,731.2 L660.0,730.7 L662.0,730.2 L664.0,729.6 L666.0,729.1 L668.0,728.4 L670.0,727.8 L672.0,727.1 L674.0,726.5 L676.0,725.7 L678.0,725.0 L680.0,724.2 L682.0,723.4 L684.0,722.6 L686.0,721.7 L688.0,720.8 L690.0,719.9 L692.0,718.9 L694.0,717.9 L696.0,716.9 L698.0,715.9 L700.0,714.8 L702.0,713.7 L704.0,712.5 L706.0,711.4 L708.0,710.2 L710.0,708.9 L712.0,707.7 L714.0,706.4 L716.0,705.1 L718.0,703.7 L720.0,702.3 L722.0,700.9 L724.0,699.5 L726.0,698.0 L728.0,696.5 L730.0,695.0 L732.0,693.4 L734.0,691.9 L736.0,690.3 L738.0,688.6 L740.0,686.9 L742.0,685.3 L744.0,683.5 L746.0,681.8 L748.0,680.0 L750.0,678.2 L752.0,676.4 L754.0,674.5 L756.0,672.7 L758.0,670.8 L760.0,668.9 L762.0,666.9 L764.0,665.0 L766.0,663.0 L768.0,661.0 L770.0,659.0 L772.0,656.9 L774.0,654.9 L776.0,652.8 L778.0,650.7 L780.0,648.6 L782.0,646.5 L784.0,644.3 L786.0,642.2 L788.0,640.0 L790.0,637.8 L792.0,635.6 L794.0,633.4 L796.0,631.2 L798.0,628.9 L800.0,626.7 L802.0,624.5 L804.0,622.2 L806.0,619.9 L808.0,617.7 L810.0,615.4 L812.0,613.1 L814.0,610.9 L816.0,608.6 L818.0,606.3 L820.0,604.0 L822.0,601.7 L824.0,599.4 L826.0,597.2 L828.0,594.9 L830.0,592.6 L832.0,590.3 L834.0,588.1 L836.0,585.8 L838.0,583.5 L840.0,581.3 L842.0,579.1 L844.0,576.8 L846.0,574.6 L848.0,572.4 L850.0,570.2 L852.0,568.0 L854.0,565.8 L856.0,563.7 L858.0,561.5 L860.0,559.4 L862.0,557.2 L864.0,555.1 L866.0,553.0 L868.0,551.0 L870.0,548.9 L872.0,546.9 L874.0,544.9 L876.0,542.9 L878.0,540.9 L880.0,538.9 L882.0,537.0 L884.0,535.1 L886.0,533.2 L888.0,531.3 L890.0,529.5 L892.0,527.6 L894.0,525.8 L896.0,524.0 L898.0,522.3 L900.0,520.5 L902.0,518.8 L904.0,517.1 L906.0,515.5 L908.0,513.8 L910.0,512.2 L912.0,510.6 L914.0,509.0 L916.0,507.5 L918.0,506.0 L920.0,504.5 L922.0,503.0 L924.0,501.5 L926.0,500.1 L928.0,498.7 L930.0,497.3 L932.0,495.9 L934.0,494.6 L936.0,493.2 L938.0,491.9 L940.0,490.6 L942.0,489.3 L944.0,488.1 L946.0,486.9 L948.0,485.6 L950.0,484.4 L952.0,483.2 L954.0,482.1 L956.0,480.9 L958.0,479.7 L960.0,478.6 L962.0,477.5 L964.0,476.3 L966.0,475.2 L968.0,474.1 L970.0,473.0 L972.0,471.9 L974.0,470.8 L976.0,469.7 L978.0,468.7 L980.0,467.6 L982.0,466.5 L984.0,465.4 L986.0,464.3 L988.0,463.2 L990.0,462.1 L992.0,460.9 L994.0,459.8 L996.0,458.7 L998.0,457.5 L1000.0,456.3 L1002.0,455.1 L1004.0,453.9 L1006.0,452.7 L1008.0,451.5 L1010.0,450.2 L1012.0,448.9 L1014.0,447.6 L1016.0,446.2 L1018.0,444.9 L1020.0,443.5 L1022.0,442.0 L1024.0,440.6 L1026.0,439.1 L1028.0,437.5 L1030.0,436.0 L1032.0,434.3 L1034.0,432.7 L1036.0,431.0 L1038.0,429.3 L1040.0,427.5 L1042.0,425.7 L1044.0,423.8 L1046.0,421.9 L1048.0,419.9 L1050.0,417.9 L1052.0,415.9 L1054.0,413.8 L1056.0,411.6 L1058.0,409.4 L1060.0,407.2 L1062.0,404.9 L1064.0,402.5 L1066.0,400.1 L1068.0,397.7 L1070.0,395.2 L1072.0,392.6 L1074.0,390.0 L1076.0,387.4 L1078.0,384.7 L1080.0,382.0 L1082.0,379.2 L1084.0,376.4 L1086.0,373.5 L1088.0,370.6 L1090.0,367.7 L1092.0,364.8 L1094.0,361.8 L1096.0,358.8 L1098.0,355.7 L1100.0,352.7 L1102.0,349.6 L1104.0,346.6 L1106.0,343.5 L1108.0,340.4 L1110.0,337.3 L1112.0,334.3 L1114.0,331.2 L1116.0,328.2 L1118.0,325.2 L1120.0,322.3 L1122.0,319.4 L1124.0,316.5 L1126.0,313.7 L1128.0,311.0 L1130.0,308.4 L1132.0,305.8 L1134.0,303.4 L1136.0,301.1 L1138.0,298.9 L1140.0,296.8 L1142.0,294.9 L1144.0,293.1 L1146.0,291.6 L1148.0,290.2 L1150.0,289.0 L1152.0,288.1 L1154.0,287.4 L1156.0,286.9 L1158.0,286.8 L1160.0,286.9 L1162.0,287.3 L1164.0,288.1 L1166.0,289.3 L1168.0,290.8 L1170.0,292.7 L1172.0,295.1 L1176.6,304.7 L1179.4,309.4 L1181.9,314.5 L1184.4,321.0 L1187.6,331.0" stroke="#ff0000" stroke-width="5" fill="none" stroke-linejoin="round" clip-path="url(#pc)"/>
<path d="M150,110V886 M143,884.3H1187.6" stroke="#000" stroke-width="2.8" fill="none"/>
<path d="M143.0,884.2H150 M136.0,842.9H150 M143.0,801.6H150 M136.0,760.3H150 M143.0,719.0H150 M136.0,677.7H150 M143.0,636.3H150 M136.0,595.0H150 M143.0,553.7H150 M136.0,512.4H150 M143.0,471.1H150 M136.0,429.8H150 M143.0,388.5H150 M136.0,347.2H150 M143.0,305.9H150 M136.0,264.6H150 M143.0,223.2H150 M136.0,181.9H150 M143.0,140.6H150 M150.0,884.3V897.3 M253.6,884.3V891.3 M357.3,884.3V897.3 M460.9,884.3V891.3 M564.5,884.3V897.3 M668.1,884.3V891.3 M771.8,884.3V897.3 M875.4,884.3V891.3 M979.0,884.3V897.3 M1082.7,884.3V891.3 M1186.3,884.3V897.3" stroke="#000" stroke-width="2.8" fill="none"/>
<g class="sans" font-size="31" text-anchor="end" fill="#000"><text transform="translate(126.4,851.5) scale(0.95,1)">0</text><text transform="translate(126.4,768.9) scale(0.95,1)">20</text><text transform="translate(126.4,686.3) scale(0.95,1)">40</text><text transform="translate(126.4,603.6) scale(0.95,1)">60</text><text transform="translate(126.4,521.0) scale(0.95,1)">80</text><text transform="translate(126.4,438.4) scale(0.95,1)">100</text><text transform="translate(126.4,355.8) scale(0.95,1)">120</text><text transform="translate(126.4,273.2) scale(0.95,1)">140</text><text transform="translate(126.4,190.5) scale(0.95,1)">160</text></g>
<g class="sans" font-size="31" text-anchor="middle" fill="#000"><text transform="translate(150.0,930.3) scale(0.95,1)">0</text><text transform="translate(357.3,930.3) scale(0.95,1)">1000</text><text transform="translate(564.5,930.3) scale(0.95,1)">2000</text><text transform="translate(771.8,930.3) scale(0.95,1)">3000</text><text transform="translate(979.0,930.3) scale(0.95,1)">4000</text><text transform="translate(1186.3,930.3) scale(0.95,1)">5000</text></g>
<g fill="#fff"><rect x="78" y="435" width="6.2" height="3"/><rect x="87.8" y="435" width="5.5" height="3"/><rect x="78" y="353" width="6.2" height="3"/><rect x="87.8" y="353" width="5.5" height="3"/><rect x="78" y="270" width="6.2" height="3"/><rect x="87.8" y="270" width="5.5" height="3"/><rect x="78" y="188" width="6.2" height="3"/><rect x="87.8" y="188" width="5.5" height="3"/><rect x="325" y="927" width="6.3" height="3"/><rect x="335.2" y="927" width="5" height="3"/></g>
<g fill="#000"><rect x="87.2" y="416" width="1.2" height="21"/><rect x="87.2" y="334" width="1.2" height="21"/><rect x="87.2" y="251" width="1.2" height="21"/><rect x="87.2" y="169" width="1.2" height="21"/><rect x="334.7" y="908.5" width="1.1" height="21"/></g>
<text class="sans" transform="translate(786.4,104) scale(0.975,1)" font-size="37" text-anchor="middle">3072</text>
<circle cx="210.4" cy="130.4" r="3.2" fill="#0000b8"/>
<path d="M170.5,174.9H250.5" stroke="#ff0000" stroke-width="5" stroke-linecap="round"/>
<text class="serif" x="256.3" y="142" font-size="35.1">Время исполнения</text>
<text class="serif" x="256.8" y="185.8" font-size="35.1">Аппроксимация</text>
<text class="serif" x="609" y="986.8" font-size="35.1">Размерность,</text>
<g class="serif"><text transform="translate(816.46,986.90) scale(0.5277,0.4646)" font-size="100" font-style="italic">N</text></g>
<g transform="translate(58,745.5) rotate(-90)" class="serif"><text x="0" y="0" font-size="35.27">Время исполнения</text>
<text transform="translate(284.28,2.38) scale(0.3793,0.3882)" font-size="100" font-style="normal">,</text>
<text transform="translate(301.09,2.00) scale(0.4750,0.4377)" font-size="100" font-style="italic">l</text>
<text transform="translate(313.92,2.21) scale(0.5647,0.4129)" font-size="100" font-style="italic">n</text>
<text transform="translate(343.20,2.76) scale(0.4000,0.4878)" font-size="100" font-style="normal">(</text>
<text transform="translate(356.64,2.21) scale(0.5612,0.4129)" font-size="100" font-style="italic">m</text>
<text transform="translate(397.63,1.60) scale(0.4435,0.4000)" font-size="100" font-style="italic">s</text>
<text transform="translate(417.08,2.76) scale(0.4077,0.4878)" font-size="100" font-style="normal">)</text></g>
<rect x="0" y="0" width="1269" height="36" fill="#000"/>
<rect x="0" y="1008" width="1269" height="11" fill="#000"/>
<rect x="1268" y="0" width="1" height="1019" fill="#000"/>
<rect x="0" y="37" width="1" height="971" fill="#f6f6f6"/>
</svg>
</body></html>
